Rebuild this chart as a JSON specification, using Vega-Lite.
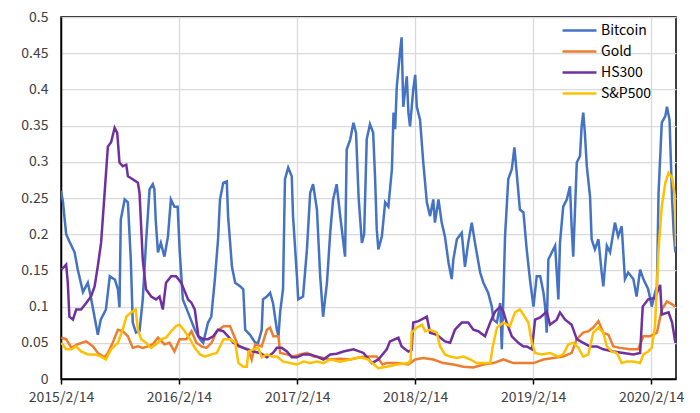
{
"$schema":"https://vega.github.io/schema/vega-lite/v6.json",
"width":615,"height":362,
"autosize":{"type":"none"},
"padding":{"left":61,"top":17,"right":24,"bottom":34},
"background":"white",
"config":{"view":{"stroke":"#000","strokeWidth":1.5},"font":"Noto Sans CJK SC"},
"data":{"values":[
{"d":"2015-02-14","s":"Bitcoin","v":0.26},
{"d":"2015-02-20","s":"Bitcoin","v":0.245},
{"d":"2015-03-02","s":"Bitcoin","v":0.2},
{"d":"2015-03-12","s":"Bitcoin","v":0.19},
{"d":"2015-03-28","s":"Bitcoin","v":0.175},
{"d":"2015-04-07","s":"Bitcoin","v":0.151},
{"d":"2015-04-23","s":"Bitcoin","v":0.12},
{"d":"2015-05-08","s":"Bitcoin","v":0.133},
{"d":"2015-05-17","s":"Bitcoin","v":0.114},
{"d":"2015-06-08","s":"Bitcoin","v":0.061},
{"d":"2015-06-17","s":"Bitcoin","v":0.082},
{"d":"2015-07-03","s":"Bitcoin","v":0.096},
{"d":"2015-07-15","s":"Bitcoin","v":0.142},
{"d":"2015-07-31","s":"Bitcoin","v":0.137},
{"d":"2015-08-09","s":"Bitcoin","v":0.124},
{"d":"2015-08-14","s":"Bitcoin","v":0.099},
{"d":"2015-08-18","s":"Bitcoin","v":0.22},
{"d":"2015-08-30","s":"Bitcoin","v":0.248},
{"d":"2015-09-09","s":"Bitcoin","v":0.244},
{"d":"2015-09-18","s":"Bitcoin","v":0.165},
{"d":"2015-09-24","s":"Bitcoin","v":0.078},
{"d":"2015-10-04","s":"Bitcoin","v":0.064},
{"d":"2015-10-15","s":"Bitcoin","v":0.066},
{"d":"2015-10-25","s":"Bitcoin","v":0.11},
{"d":"2015-11-04","s":"Bitcoin","v":0.188},
{"d":"2015-11-15","s":"Bitcoin","v":0.262},
{"d":"2015-11-25","s":"Bitcoin","v":0.269},
{"d":"2015-11-30","s":"Bitcoin","v":0.262},
{"d":"2015-12-04","s":"Bitcoin","v":0.22},
{"d":"2015-12-11","s":"Bitcoin","v":0.175},
{"d":"2015-12-20","s":"Bitcoin","v":0.188},
{"d":"2015-12-31","s":"Bitcoin","v":0.169},
{"d":"2016-01-11","s":"Bitcoin","v":0.197},
{"d":"2016-01-20","s":"Bitcoin","v":0.248},
{"d":"2016-01-31","s":"Bitcoin","v":0.238},
{"d":"2016-02-10","s":"Bitcoin","v":0.238},
{"d":"2016-02-16","s":"Bitcoin","v":0.179},
{"d":"2016-02-26","s":"Bitcoin","v":0.11},
{"d":"2016-03-13","s":"Bitcoin","v":0.092},
{"d":"2016-04-03","s":"Bitcoin","v":0.068},
{"d":"2016-04-19","s":"Bitcoin","v":0.055},
{"d":"2016-04-29","s":"Bitcoin","v":0.05},
{"d":"2016-05-14","s":"Bitcoin","v":0.078},
{"d":"2016-05-24","s":"Bitcoin","v":0.086},
{"d":"2016-06-04","s":"Bitcoin","v":0.137},
{"d":"2016-06-14","s":"Bitcoin","v":0.193},
{"d":"2016-06-20","s":"Bitcoin","v":0.248},
{"d":"2016-06-30","s":"Bitcoin","v":0.271},
{"d":"2016-07-11","s":"Bitcoin","v":0.273},
{"d":"2016-07-15","s":"Bitcoin","v":0.225},
{"d":"2016-07-27","s":"Bitcoin","v":0.155},
{"d":"2016-08-06","s":"Bitcoin","v":0.133},
{"d":"2016-08-21","s":"Bitcoin","v":0.128},
{"d":"2016-08-31","s":"Bitcoin","v":0.124},
{"d":"2016-09-06","s":"Bitcoin","v":0.068},
{"d":"2016-09-21","s":"Bitcoin","v":0.061},
{"d":"2016-10-07","s":"Bitcoin","v":0.05},
{"d":"2016-10-16","s":"Bitcoin","v":0.05},
{"d":"2016-10-27","s":"Bitcoin","v":0.068},
{"d":"2016-10-31","s":"Bitcoin","v":0.11},
{"d":"2016-11-12","s":"Bitcoin","v":0.114},
{"d":"2016-11-22","s":"Bitcoin","v":0.119},
{"d":"2016-12-01","s":"Bitcoin","v":0.105},
{"d":"2016-12-13","s":"Bitcoin","v":0.068},
{"d":"2016-12-18","s":"Bitcoin","v":0.059},
{"d":"2016-12-23","s":"Bitcoin","v":0.092},
{"d":"2017-01-01","s":"Bitcoin","v":0.124},
{"d":"2017-01-07","s":"Bitcoin","v":0.276},
{"d":"2017-01-17","s":"Bitcoin","v":0.292},
{"d":"2017-01-28","s":"Bitcoin","v":0.28},
{"d":"2017-02-01","s":"Bitcoin","v":0.225},
{"d":"2017-02-13","s":"Bitcoin","v":0.142},
{"d":"2017-02-17","s":"Bitcoin","v":0.11},
{"d":"2017-03-04","s":"Bitcoin","v":0.114},
{"d":"2017-03-16","s":"Bitcoin","v":0.179},
{"d":"2017-03-26","s":"Bitcoin","v":0.257},
{"d":"2017-04-04","s":"Bitcoin","v":0.269},
{"d":"2017-04-16","s":"Bitcoin","v":0.234},
{"d":"2017-04-26","s":"Bitcoin","v":0.142},
{"d":"2017-05-05","s":"Bitcoin","v":0.086},
{"d":"2017-05-17","s":"Bitcoin","v":0.133},
{"d":"2017-05-27","s":"Bitcoin","v":0.202},
{"d":"2017-06-05","s":"Bitcoin","v":0.248},
{"d":"2017-06-16","s":"Bitcoin","v":0.269},
{"d":"2017-06-27","s":"Bitcoin","v":0.225},
{"d":"2017-07-12","s":"Bitcoin","v":0.169},
{"d":"2017-07-17","s":"Bitcoin","v":0.317},
{"d":"2017-07-28","s":"Bitcoin","v":0.331},
{"d":"2017-08-07","s":"Bitcoin","v":0.354},
{"d":"2017-08-15","s":"Bitcoin","v":0.34},
{"d":"2017-08-23","s":"Bitcoin","v":0.25},
{"d":"2017-09-02","s":"Bitcoin","v":0.188},
{"d":"2017-09-09","s":"Bitcoin","v":0.2},
{"d":"2017-09-17","s":"Bitcoin","v":0.331},
{"d":"2017-09-27","s":"Bitcoin","v":0.352},
{"d":"2017-10-07","s":"Bitcoin","v":0.34},
{"d":"2017-10-13","s":"Bitcoin","v":0.276},
{"d":"2017-10-18","s":"Bitcoin","v":0.207},
{"d":"2017-10-23","s":"Bitcoin","v":0.179},
{"d":"2017-11-03","s":"Bitcoin","v":0.197},
{"d":"2017-11-13","s":"Bitcoin","v":0.244},
{"d":"2017-11-23","s":"Bitcoin","v":0.238},
{"d":"2017-12-04","s":"Bitcoin","v":0.29},
{"d":"2017-12-09","s":"Bitcoin","v":0.368},
{"d":"2017-12-14","s":"Bitcoin","v":0.345},
{"d":"2017-12-19","s":"Bitcoin","v":0.404},
{"d":"2017-12-29","s":"Bitcoin","v":0.451},
{"d":"2018-01-03","s":"Bitcoin","v":0.472},
{"d":"2018-01-08","s":"Bitcoin","v":0.376},
{"d":"2018-01-19","s":"Bitcoin","v":0.418},
{"d":"2018-01-24","s":"Bitcoin","v":0.368},
{"d":"2018-01-29","s":"Bitcoin","v":0.349},
{"d":"2018-02-08","s":"Bitcoin","v":0.4},
{"d":"2018-02-14","s":"Bitcoin","v":0.42},
{"d":"2018-02-19","s":"Bitcoin","v":0.376},
{"d":"2018-03-01","s":"Bitcoin","v":0.358},
{"d":"2018-03-11","s":"Bitcoin","v":0.299},
{"d":"2018-03-22","s":"Bitcoin","v":0.244},
{"d":"2018-04-01","s":"Bitcoin","v":0.225},
{"d":"2018-04-11","s":"Bitcoin","v":0.248},
{"d":"2018-04-16","s":"Bitcoin","v":0.216},
{"d":"2018-04-27","s":"Bitcoin","v":0.248},
{"d":"2018-05-07","s":"Bitcoin","v":0.216},
{"d":"2018-05-17","s":"Bitcoin","v":0.197},
{"d":"2018-05-28","s":"Bitcoin","v":0.161},
{"d":"2018-06-07","s":"Bitcoin","v":0.138},
{"d":"2018-06-12","s":"Bitcoin","v":0.165},
{"d":"2018-06-23","s":"Bitcoin","v":0.193},
{"d":"2018-07-08","s":"Bitcoin","v":0.202},
{"d":"2018-07-18","s":"Bitcoin","v":0.155},
{"d":"2018-07-28","s":"Bitcoin","v":0.188},
{"d":"2018-08-08","s":"Bitcoin","v":0.216},
{"d":"2018-08-18","s":"Bitcoin","v":0.188},
{"d":"2018-09-03","s":"Bitcoin","v":0.147},
{"d":"2018-09-13","s":"Bitcoin","v":0.133},
{"d":"2018-09-28","s":"Bitcoin","v":0.119},
{"d":"2018-10-09","s":"Bitcoin","v":0.1},
{"d":"2018-10-14","s":"Bitcoin","v":0.082},
{"d":"2018-10-25","s":"Bitcoin","v":0.078},
{"d":"2018-11-04","s":"Bitcoin","v":0.105},
{"d":"2018-11-09","s":"Bitcoin","v":0.041},
{"d":"2018-11-14","s":"Bitcoin","v":0.114},
{"d":"2018-11-19","s":"Bitcoin","v":0.197},
{"d":"2018-11-29","s":"Bitcoin","v":0.276},
{"d":"2018-12-10","s":"Bitcoin","v":0.29},
{"d":"2018-12-18","s":"Bitcoin","v":0.32},
{"d":"2018-12-25","s":"Bitcoin","v":0.285},
{"d":"2019-01-04","s":"Bitcoin","v":0.234},
{"d":"2019-01-15","s":"Bitcoin","v":0.23},
{"d":"2019-01-25","s":"Bitcoin","v":0.179},
{"d":"2019-02-04","s":"Bitcoin","v":0.138},
{"d":"2019-02-15","s":"Bitcoin","v":0.1},
{"d":"2019-02-25","s":"Bitcoin","v":0.142},
{"d":"2019-03-08","s":"Bitcoin","v":0.142},
{"d":"2019-03-18","s":"Bitcoin","v":0.119},
{"d":"2019-03-23","s":"Bitcoin","v":0.1},
{"d":"2019-03-28","s":"Bitcoin","v":0.064},
{"d":"2019-04-02","s":"Bitcoin","v":0.165},
{"d":"2019-04-13","s":"Bitcoin","v":0.175},
{"d":"2019-04-23","s":"Bitcoin","v":0.184},
{"d":"2019-05-03","s":"Bitcoin","v":0.11},
{"d":"2019-05-08","s":"Bitcoin","v":0.188},
{"d":"2019-05-18","s":"Bitcoin","v":0.238},
{"d":"2019-05-29","s":"Bitcoin","v":0.248},
{"d":"2019-06-08","s":"Bitcoin","v":0.266},
{"d":"2019-06-13","s":"Bitcoin","v":0.211},
{"d":"2019-06-18","s":"Bitcoin","v":0.169},
{"d":"2019-06-29","s":"Bitcoin","v":0.299},
{"d":"2019-07-09","s":"Bitcoin","v":0.308},
{"d":"2019-07-14","s":"Bitcoin","v":0.349},
{"d":"2019-07-19","s":"Bitcoin","v":0.368},
{"d":"2019-07-24","s":"Bitcoin","v":0.34},
{"d":"2019-07-30","s":"Bitcoin","v":0.294},
{"d":"2019-08-09","s":"Bitcoin","v":0.252},
{"d":"2019-08-14","s":"Bitcoin","v":0.193},
{"d":"2019-08-24","s":"Bitcoin","v":0.179},
{"d":"2019-09-04","s":"Bitcoin","v":0.193},
{"d":"2019-09-14","s":"Bitcoin","v":0.147},
{"d":"2019-09-19","s":"Bitcoin","v":0.128},
{"d":"2019-09-30","s":"Bitcoin","v":0.184},
{"d":"2019-10-10","s":"Bitcoin","v":0.175},
{"d":"2019-10-25","s":"Bitcoin","v":0.216},
{"d":"2019-11-04","s":"Bitcoin","v":0.197},
{"d":"2019-11-15","s":"Bitcoin","v":0.211},
{"d":"2019-11-25","s":"Bitcoin","v":0.138},
{"d":"2019-12-05","s":"Bitcoin","v":0.147},
{"d":"2019-12-21","s":"Bitcoin","v":0.138},
{"d":"2019-12-31","s":"Bitcoin","v":0.114},
{"d":"2020-01-11","s":"Bitcoin","v":0.151},
{"d":"2020-01-21","s":"Bitcoin","v":0.138},
{"d":"2020-02-05","s":"Bitcoin","v":0.124},
{"d":"2020-02-16","s":"Bitcoin","v":0.1},
{"d":"2020-02-26","s":"Bitcoin","v":0.119},
{"d":"2020-03-03","s":"Bitcoin","v":0.128},
{"d":"2020-03-08","s":"Bitcoin","v":0.257},
{"d":"2020-03-18","s":"Bitcoin","v":0.354},
{"d":"2020-03-29","s":"Bitcoin","v":0.363},
{"d":"2020-04-03","s":"Bitcoin","v":0.376},
{"d":"2020-04-11","s":"Bitcoin","v":0.358},
{"d":"2020-04-19","s":"Bitcoin","v":0.248},
{"d":"2020-04-24","s":"Bitcoin","v":0.202},
{"d":"2020-04-29","s":"Bitcoin","v":0.175},
{"d":"2015-02-15","s":"Gold","v":0.057},
{"d":"2015-03-02","s":"Gold","v":0.055},
{"d":"2015-03-18","s":"Gold","v":0.043},
{"d":"2015-04-07","s":"Gold","v":0.048},
{"d":"2015-05-03","s":"Gold","v":0.052},
{"d":"2015-05-24","s":"Gold","v":0.045},
{"d":"2015-06-08","s":"Gold","v":0.036},
{"d":"2015-06-29","s":"Gold","v":0.03},
{"d":"2015-07-09","s":"Gold","v":0.036},
{"d":"2015-07-24","s":"Gold","v":0.05},
{"d":"2015-08-09","s":"Gold","v":0.068},
{"d":"2015-08-24","s":"Gold","v":0.066},
{"d":"2015-09-09","s":"Gold","v":0.059},
{"d":"2015-09-24","s":"Gold","v":0.043},
{"d":"2015-10-10","s":"Gold","v":0.045},
{"d":"2015-10-25","s":"Gold","v":0.043},
{"d":"2015-11-10","s":"Gold","v":0.045},
{"d":"2015-11-25","s":"Gold","v":0.048},
{"d":"2015-12-11","s":"Gold","v":0.057},
{"d":"2015-12-31","s":"Gold","v":0.048},
{"d":"2016-01-16","s":"Gold","v":0.05},
{"d":"2016-01-31","s":"Gold","v":0.038},
{"d":"2016-02-16","s":"Gold","v":0.055},
{"d":"2016-03-08","s":"Gold","v":0.055},
{"d":"2016-03-24","s":"Gold","v":0.066},
{"d":"2016-04-08","s":"Gold","v":0.05},
{"d":"2016-04-24","s":"Gold","v":0.045},
{"d":"2016-05-09","s":"Gold","v":0.043},
{"d":"2016-05-25","s":"Gold","v":0.05},
{"d":"2016-06-10","s":"Gold","v":0.066},
{"d":"2016-07-01","s":"Gold","v":0.073},
{"d":"2016-07-21","s":"Gold","v":0.073},
{"d":"2016-08-01","s":"Gold","v":0.061},
{"d":"2016-08-16","s":"Gold","v":0.045},
{"d":"2016-08-31","s":"Gold","v":0.043},
{"d":"2016-09-16","s":"Gold","v":0.041},
{"d":"2016-09-26","s":"Gold","v":0.027},
{"d":"2016-10-07","s":"Gold","v":0.048},
{"d":"2016-10-27","s":"Gold","v":0.045},
{"d":"2016-11-12","s":"Gold","v":0.068},
{"d":"2016-11-22","s":"Gold","v":0.071},
{"d":"2016-12-02","s":"Gold","v":0.059},
{"d":"2016-12-18","s":"Gold","v":0.059},
{"d":"2016-12-23","s":"Gold","v":0.036},
{"d":"2017-01-13","s":"Gold","v":0.034},
{"d":"2017-02-02","s":"Gold","v":0.031},
{"d":"2017-02-23","s":"Gold","v":0.034},
{"d":"2017-03-16","s":"Gold","v":0.036},
{"d":"2017-04-05","s":"Gold","v":0.031},
{"d":"2017-04-26","s":"Gold","v":0.03},
{"d":"2017-05-27","s":"Gold","v":0.027},
{"d":"2017-06-27","s":"Gold","v":0.028},
{"d":"2017-07-28","s":"Gold","v":0.027},
{"d":"2017-08-27","s":"Gold","v":0.03},
{"d":"2017-09-22","s":"Gold","v":0.031},
{"d":"2017-10-18","s":"Gold","v":0.031},
{"d":"2017-11-05","s":"Gold","v":0.02},
{"d":"2017-11-18","s":"Gold","v":0.022},
{"d":"2017-12-19","s":"Gold","v":0.022},
{"d":"2018-01-24","s":"Gold","v":0.02},
{"d":"2018-02-14","s":"Gold","v":0.027},
{"d":"2018-03-11","s":"Gold","v":0.029},
{"d":"2018-04-11","s":"Gold","v":0.027},
{"d":"2018-05-12","s":"Gold","v":0.022},
{"d":"2018-06-12","s":"Gold","v":0.02},
{"d":"2018-07-13","s":"Gold","v":0.017},
{"d":"2018-08-13","s":"Gold","v":0.016},
{"d":"2018-09-13","s":"Gold","v":0.02},
{"d":"2018-10-14","s":"Gold","v":0.022},
{"d":"2018-11-14","s":"Gold","v":0.027},
{"d":"2018-12-15","s":"Gold","v":0.022},
{"d":"2019-01-15","s":"Gold","v":0.022},
{"d":"2019-02-15","s":"Gold","v":0.022},
{"d":"2019-03-18","s":"Gold","v":0.027},
{"d":"2019-04-17","s":"Gold","v":0.029},
{"d":"2019-05-18","s":"Gold","v":0.031},
{"d":"2019-06-13","s":"Gold","v":0.036},
{"d":"2019-06-29","s":"Gold","v":0.055},
{"d":"2019-07-19","s":"Gold","v":0.064},
{"d":"2019-08-04","s":"Gold","v":0.066},
{"d":"2019-08-19","s":"Gold","v":0.071},
{"d":"2019-09-04","s":"Gold","v":0.08},
{"d":"2019-09-19","s":"Gold","v":0.064},
{"d":"2019-10-05","s":"Gold","v":0.061},
{"d":"2019-10-20","s":"Gold","v":0.045},
{"d":"2019-11-10","s":"Gold","v":0.043},
{"d":"2019-12-11","s":"Gold","v":0.041},
{"d":"2020-01-05","s":"Gold","v":0.041},
{"d":"2020-01-21","s":"Gold","v":0.059},
{"d":"2020-02-10","s":"Gold","v":0.059},
{"d":"2020-03-03","s":"Gold","v":0.064},
{"d":"2020-03-18","s":"Gold","v":0.096},
{"d":"2020-04-03","s":"Gold","v":0.107},
{"d":"2020-04-19","s":"Gold","v":0.103},
{"d":"2020-04-29","s":"Gold","v":0.1},
{"d":"2015-02-15","s":"HS300","v":0.151},
{"d":"2015-03-02","s":"HS300","v":0.158},
{"d":"2015-03-07","s":"HS300","v":0.133},
{"d":"2015-03-12","s":"HS300","v":0.086},
{"d":"2015-03-23","s":"HS300","v":0.082},
{"d":"2015-04-02","s":"HS300","v":0.096},
{"d":"2015-04-17","s":"HS300","v":0.096},
{"d":"2015-05-03","s":"HS300","v":0.105},
{"d":"2015-05-18","s":"HS300","v":0.114},
{"d":"2015-05-29","s":"HS300","v":0.128},
{"d":"2015-06-08","s":"HS300","v":0.156},
{"d":"2015-06-18","s":"HS300","v":0.188},
{"d":"2015-06-29","s":"HS300","v":0.257},
{"d":"2015-07-09","s":"HS300","v":0.321},
{"d":"2015-07-19","s":"HS300","v":0.327},
{"d":"2015-07-30","s":"HS300","v":0.347},
{"d":"2015-08-07","s":"HS300","v":0.34},
{"d":"2015-08-14","s":"HS300","v":0.299},
{"d":"2015-08-24","s":"HS300","v":0.294},
{"d":"2015-09-04","s":"HS300","v":0.296},
{"d":"2015-09-09","s":"HS300","v":0.28},
{"d":"2015-09-24","s":"HS300","v":0.276},
{"d":"2015-10-10","s":"HS300","v":0.271},
{"d":"2015-10-15","s":"HS300","v":0.257},
{"d":"2015-10-25","s":"HS300","v":0.165},
{"d":"2015-11-04","s":"HS300","v":0.124},
{"d":"2015-11-20","s":"HS300","v":0.114},
{"d":"2015-12-05","s":"HS300","v":0.11},
{"d":"2015-12-16","s":"HS300","v":0.114},
{"d":"2015-12-26","s":"HS300","v":0.096},
{"d":"2016-01-05","s":"HS300","v":0.133},
{"d":"2016-01-21","s":"HS300","v":0.142},
{"d":"2016-02-05","s":"HS300","v":0.142},
{"d":"2016-02-21","s":"HS300","v":0.133},
{"d":"2016-03-03","s":"HS300","v":0.121},
{"d":"2016-03-13","s":"HS300","v":0.11},
{"d":"2016-03-24","s":"HS300","v":0.105},
{"d":"2016-04-03","s":"HS300","v":0.096},
{"d":"2016-04-14","s":"HS300","v":0.059},
{"d":"2016-04-29","s":"HS300","v":0.055},
{"d":"2016-05-14","s":"HS300","v":0.055},
{"d":"2016-05-30","s":"HS300","v":0.059},
{"d":"2016-06-14","s":"HS300","v":0.068},
{"d":"2016-06-30","s":"HS300","v":0.066},
{"d":"2016-07-15","s":"HS300","v":0.059},
{"d":"2016-07-31","s":"HS300","v":0.05},
{"d":"2016-08-21","s":"HS300","v":0.045},
{"d":"2016-09-11","s":"HS300","v":0.041},
{"d":"2016-10-01","s":"HS300","v":0.038},
{"d":"2016-10-22","s":"HS300","v":0.036},
{"d":"2016-11-12","s":"HS300","v":0.03},
{"d":"2016-12-01","s":"HS300","v":0.036},
{"d":"2016-12-13","s":"HS300","v":0.043},
{"d":"2016-12-28","s":"HS300","v":0.043},
{"d":"2017-01-13","s":"HS300","v":0.038},
{"d":"2017-01-28","s":"HS300","v":0.03},
{"d":"2017-02-13","s":"HS300","v":0.03},
{"d":"2017-03-05","s":"HS300","v":0.034},
{"d":"2017-03-26","s":"HS300","v":0.034},
{"d":"2017-04-16","s":"HS300","v":0.031},
{"d":"2017-05-06","s":"HS300","v":0.027},
{"d":"2017-05-27","s":"HS300","v":0.034},
{"d":"2017-06-16","s":"HS300","v":0.035},
{"d":"2017-07-07","s":"HS300","v":0.038},
{"d":"2017-08-07","s":"HS300","v":0.041},
{"d":"2017-09-07","s":"HS300","v":0.036},
{"d":"2017-10-03","s":"HS300","v":0.022},
{"d":"2017-10-23","s":"HS300","v":0.027},
{"d":"2017-11-18","s":"HS300","v":0.041},
{"d":"2017-11-28","s":"HS300","v":0.052},
{"d":"2017-12-24","s":"HS300","v":0.057},
{"d":"2018-01-03","s":"HS300","v":0.045},
{"d":"2018-01-14","s":"HS300","v":0.041},
{"d":"2018-01-24","s":"HS300","v":0.038},
{"d":"2018-02-03","s":"HS300","v":0.04},
{"d":"2018-02-08","s":"HS300","v":0.078},
{"d":"2018-02-24","s":"HS300","v":0.08},
{"d":"2018-03-22","s":"HS300","v":0.086},
{"d":"2018-04-01","s":"HS300","v":0.064},
{"d":"2018-04-22","s":"HS300","v":0.061},
{"d":"2018-05-17","s":"HS300","v":0.052},
{"d":"2018-06-02","s":"HS300","v":0.05},
{"d":"2018-06-17","s":"HS300","v":0.068},
{"d":"2018-07-08","s":"HS300","v":0.078},
{"d":"2018-07-28","s":"HS300","v":0.078},
{"d":"2018-08-13","s":"HS300","v":0.068},
{"d":"2018-08-28","s":"HS300","v":0.066},
{"d":"2018-09-18","s":"HS300","v":0.059},
{"d":"2018-10-04","s":"HS300","v":0.078},
{"d":"2018-10-19","s":"HS300","v":0.093},
{"d":"2018-11-04","s":"HS300","v":0.1},
{"d":"2018-11-14","s":"HS300","v":0.093},
{"d":"2018-11-24","s":"HS300","v":0.078},
{"d":"2018-12-10","s":"HS300","v":0.059},
{"d":"2018-12-30","s":"HS300","v":0.05},
{"d":"2019-01-15","s":"HS300","v":0.045},
{"d":"2019-01-25","s":"HS300","v":0.045},
{"d":"2019-02-10","s":"HS300","v":0.041},
{"d":"2019-02-20","s":"HS300","v":0.082},
{"d":"2019-03-08","s":"HS300","v":0.085},
{"d":"2019-03-28","s":"HS300","v":0.093},
{"d":"2019-04-07","s":"HS300","v":0.075},
{"d":"2019-04-28","s":"HS300","v":0.082},
{"d":"2019-05-08","s":"HS300","v":0.092},
{"d":"2019-05-24","s":"HS300","v":0.082},
{"d":"2019-06-13","s":"HS300","v":0.075},
{"d":"2019-06-29","s":"HS300","v":0.055},
{"d":"2019-07-19","s":"HS300","v":0.05},
{"d":"2019-08-09","s":"HS300","v":0.045},
{"d":"2019-08-30","s":"HS300","v":0.045},
{"d":"2019-09-19","s":"HS300","v":0.041},
{"d":"2019-10-20","s":"HS300","v":0.038},
{"d":"2019-11-20","s":"HS300","v":0.036},
{"d":"2019-12-21","s":"HS300","v":0.034},
{"d":"2020-01-11","s":"HS300","v":0.036},
{"d":"2020-01-19","s":"HS300","v":0.1},
{"d":"2020-02-05","s":"HS300","v":0.11},
{"d":"2020-02-26","s":"HS300","v":0.112},
{"d":"2020-03-13","s":"HS300","v":0.13},
{"d":"2020-03-18","s":"HS300","v":0.089},
{"d":"2020-04-08","s":"HS300","v":0.092},
{"d":"2020-04-19","s":"HS300","v":0.078},
{"d":"2020-04-29","s":"HS300","v":0.05},
{"d":"2015-02-15","s":"S&P500","v":0.05},
{"d":"2015-03-02","s":"S&P500","v":0.041},
{"d":"2015-03-18","s":"S&P500","v":0.041},
{"d":"2015-04-02","s":"S&P500","v":0.045},
{"d":"2015-04-17","s":"S&P500","v":0.038},
{"d":"2015-05-08","s":"S&P500","v":0.034},
{"d":"2015-05-29","s":"S&P500","v":0.034},
{"d":"2015-06-18","s":"S&P500","v":0.031},
{"d":"2015-07-03","s":"S&P500","v":0.027},
{"d":"2015-07-19","s":"S&P500","v":0.041},
{"d":"2015-08-09","s":"S&P500","v":0.05},
{"d":"2015-08-24","s":"S&P500","v":0.068},
{"d":"2015-09-04","s":"S&P500","v":0.086},
{"d":"2015-09-19","s":"S&P500","v":0.092},
{"d":"2015-10-03","s":"S&P500","v":0.096},
{"d":"2015-10-10","s":"S&P500","v":0.068},
{"d":"2015-10-20","s":"S&P500","v":0.055},
{"d":"2015-11-04","s":"S&P500","v":0.05},
{"d":"2015-11-20","s":"S&P500","v":0.043},
{"d":"2015-12-11","s":"S&P500","v":0.05},
{"d":"2015-12-21","s":"S&P500","v":0.055},
{"d":"2016-01-05","s":"S&P500","v":0.057},
{"d":"2016-01-21","s":"S&P500","v":0.066},
{"d":"2016-02-05","s":"S&P500","v":0.073},
{"d":"2016-02-16","s":"S&P500","v":0.075},
{"d":"2016-03-03","s":"S&P500","v":0.066},
{"d":"2016-03-19","s":"S&P500","v":0.055},
{"d":"2016-04-03","s":"S&P500","v":0.043},
{"d":"2016-04-19","s":"S&P500","v":0.034},
{"d":"2016-05-04","s":"S&P500","v":0.031},
{"d":"2016-05-25","s":"S&P500","v":0.034},
{"d":"2016-06-10","s":"S&P500","v":0.036},
{"d":"2016-07-01","s":"S&P500","v":0.055},
{"d":"2016-07-21","s":"S&P500","v":0.055},
{"d":"2016-08-06","s":"S&P500","v":0.05},
{"d":"2016-08-16","s":"S&P500","v":0.022},
{"d":"2016-08-31","s":"S&P500","v":0.017},
{"d":"2016-09-11","s":"S&P500","v":0.017},
{"d":"2016-09-16","s":"S&P500","v":0.038},
{"d":"2016-10-01","s":"S&P500","v":0.041},
{"d":"2016-10-16","s":"S&P500","v":0.043},
{"d":"2016-10-27","s":"S&P500","v":0.03},
{"d":"2016-11-12","s":"S&P500","v":0.034},
{"d":"2016-11-27","s":"S&P500","v":0.031},
{"d":"2016-12-13","s":"S&P500","v":0.031},
{"d":"2017-01-02","s":"S&P500","v":0.024},
{"d":"2017-01-23","s":"S&P500","v":0.022},
{"d":"2017-02-13","s":"S&P500","v":0.02},
{"d":"2017-03-05","s":"S&P500","v":0.024},
{"d":"2017-03-26","s":"S&P500","v":0.022},
{"d":"2017-04-16","s":"S&P500","v":0.024},
{"d":"2017-05-06","s":"S&P500","v":0.022},
{"d":"2017-05-27","s":"S&P500","v":0.027},
{"d":"2017-06-27","s":"S&P500","v":0.024},
{"d":"2017-07-28","s":"S&P500","v":0.027},
{"d":"2017-08-27","s":"S&P500","v":0.03},
{"d":"2017-09-22","s":"S&P500","v":0.027},
{"d":"2017-10-23","s":"S&P500","v":0.015},
{"d":"2017-11-18","s":"S&P500","v":0.017},
{"d":"2017-12-19","s":"S&P500","v":0.02},
{"d":"2018-01-25","s":"S&P500","v":0.022},
{"d":"2018-01-31","s":"S&P500","v":0.027},
{"d":"2018-02-03","s":"S&P500","v":0.064},
{"d":"2018-02-19","s":"S&P500","v":0.071},
{"d":"2018-03-07","s":"S&P500","v":0.075},
{"d":"2018-03-17","s":"S&P500","v":0.066},
{"d":"2018-04-01","s":"S&P500","v":0.068},
{"d":"2018-04-22","s":"S&P500","v":0.064},
{"d":"2018-05-02","s":"S&P500","v":0.045},
{"d":"2018-05-17","s":"S&P500","v":0.034},
{"d":"2018-06-02","s":"S&P500","v":0.031},
{"d":"2018-06-23","s":"S&P500","v":0.029},
{"d":"2018-07-13","s":"S&P500","v":0.031},
{"d":"2018-08-03","s":"S&P500","v":0.027},
{"d":"2018-08-23","s":"S&P500","v":0.022},
{"d":"2018-09-13","s":"S&P500","v":0.022},
{"d":"2018-10-04","s":"S&P500","v":0.022},
{"d":"2018-10-12","s":"S&P500","v":0.045},
{"d":"2018-10-25","s":"S&P500","v":0.071},
{"d":"2018-11-14","s":"S&P500","v":0.078},
{"d":"2018-12-04","s":"S&P500","v":0.073},
{"d":"2018-12-20","s":"S&P500","v":0.092},
{"d":"2019-01-04","s":"S&P500","v":0.096},
{"d":"2019-01-15","s":"S&P500","v":0.089},
{"d":"2019-01-30","s":"S&P500","v":0.078},
{"d":"2019-02-10","s":"S&P500","v":0.05},
{"d":"2019-02-20","s":"S&P500","v":0.036},
{"d":"2019-03-12","s":"S&P500","v":0.034},
{"d":"2019-04-07","s":"S&P500","v":0.036},
{"d":"2019-05-03","s":"S&P500","v":0.031},
{"d":"2019-05-18","s":"S&P500","v":0.034},
{"d":"2019-06-03","s":"S&P500","v":0.048},
{"d":"2019-06-18","s":"S&P500","v":0.05},
{"d":"2019-07-04","s":"S&P500","v":0.043},
{"d":"2019-07-19","s":"S&P500","v":0.031},
{"d":"2019-08-04","s":"S&P500","v":0.034},
{"d":"2019-08-19","s":"S&P500","v":0.064},
{"d":"2019-09-04","s":"S&P500","v":0.071},
{"d":"2019-09-19","s":"S&P500","v":0.064},
{"d":"2019-09-30","s":"S&P500","v":0.045},
{"d":"2019-10-15","s":"S&P500","v":0.038},
{"d":"2019-10-31","s":"S&P500","v":0.036},
{"d":"2019-11-15","s":"S&P500","v":0.022},
{"d":"2019-11-30","s":"S&P500","v":0.024},
{"d":"2019-12-21","s":"S&P500","v":0.024},
{"d":"2020-01-11","s":"S&P500","v":0.022},
{"d":"2020-01-21","s":"S&P500","v":0.034},
{"d":"2020-02-05","s":"S&P500","v":0.038},
{"d":"2020-02-16","s":"S&P500","v":0.043},
{"d":"2020-02-26","s":"S&P500","v":0.073},
{"d":"2020-03-08","s":"S&P500","v":0.179},
{"d":"2020-03-18","s":"S&P500","v":0.238},
{"d":"2020-03-29","s":"S&P500","v":0.271},
{"d":"2020-04-08","s":"S&P500","v":0.285},
{"d":"2020-04-19","s":"S&P500","v":0.278},
{"d":"2020-04-29","s":"S&P500","v":0.248},
{"d":"2020-05-01","s":"S&P500","v":0.183}
]},
"mark":{"type":"line","strokeWidth":2.5,"clip":true},
"encoding":{
"x":{"field":"d","type":"temporal",
"scale":{"type":"utc","domain":[{"year":2015,"month":2,"date":14,"utc":true},{"year":2020,"month":5,"date":1,"utc":true}]},
"axis":{"title":null,"values":[{"year":2015,"month":2,"date":14,"utc":true},{"year":2016,"month":2,"date":14,"utc":true},{"year":2017,"month":2,"date":14,"utc":true},{"year":2018,"month":2,"date":14,"utc":true},{"year":2019,"month":2,"date":14,"utc":true},{"year":2020,"month":2,"date":14,"utc":true}],
"format":"%Y/%-m/%-d","labelFontSize":14,"labelColor":"#404040","labelPadding":6,"labelOverlap":false,"labelFlush":false,"labelBound":false,
"grid":true,"gridColor":"#D9D9D9","gridWidth":1.25,"domainColor":"#000","domainWidth":1.5,"tickColor":"#000","tickWidth":1.5,"tickSize":5}},
"y":{"field":"v","type":"quantitative","scale":{"domain":[0,0.5],"nice":false},
"axis":{"title":null,"values":[0,0.05,0.1,0.15,0.2,0.25,0.3,0.35,0.4,0.45,0.5],"format":".2~f","labelFontSize":14,"labelColor":"#404040","labelPadding":13,"ticks":false,"tickSize":0,
"grid":true,"gridColor":"#D9D9D9","gridWidth":1.25,"domainColor":"#000","domainWidth":1.5}},
"color":{"field":"s","type":"nominal","scale":{"domain":["Bitcoin","Gold","HS300","S&P500"],"range":["#4472C4","#ED7D31","#7030A0","#FFC000"]},
"legend":{"title":null,"orient":"none","legendX":500,"legendY":3,"symbolType":"stroke","symbolSize":1150,"symbolStrokeWidth":2.5,"labelFontSize":14,"labelColor":"#000","labelOffset":3,"rowPadding":0,"clipHeight":21}}
}
}
